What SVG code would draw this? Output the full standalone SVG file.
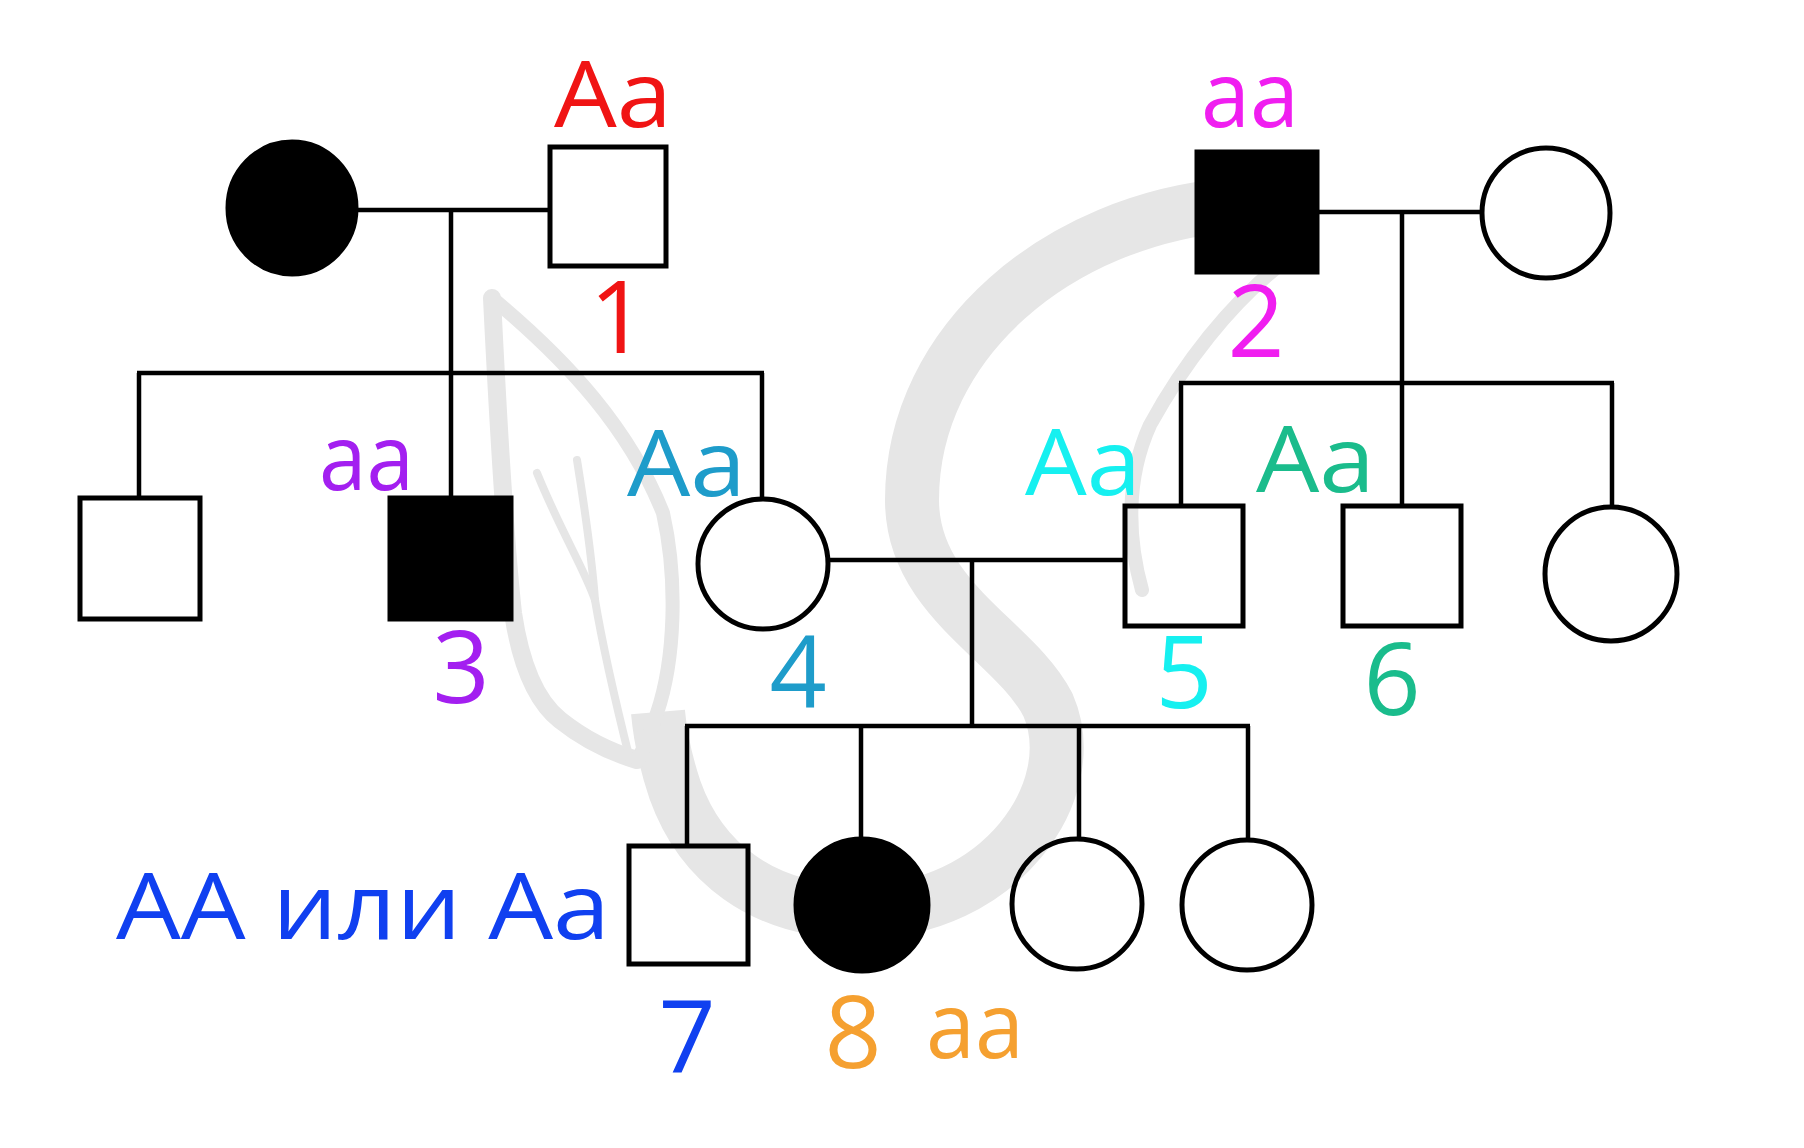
<svg xmlns="http://www.w3.org/2000/svg" width="1804" height="1148" viewBox="0 0 1804 1148">
<style>
.wm{fill:none;stroke:#e6e6e6;stroke-linecap:round;stroke-linejoin:round}
.wmb{fill:none;stroke:#e6e6e6;stroke-linecap:butt;stroke-linejoin:round}
.ln{fill:none;stroke:#000;stroke-width:4.5}
.sym{fill:none;stroke:#000;stroke-width:5}
.aff{fill:#000;stroke:#000;stroke-width:5}
.lbl{font-family:"Open Sans","Liberation Sans",sans-serif;font-size:92px}
.num{font-family:"Open Sans","Liberation Sans",sans-serif;font-size:100px;text-anchor:middle}
</style>
<rect x="0" y="0" width="1804" height="1148" fill="#fff"/>
<g id="watermark">
<path class="wmb" stroke-width="54" d="M1230,205 C1060,220 912,340 912,500 C912,600 1015,640 1048,705 C1085,790 1000,912 860,912 C760,912 700,860 675,790 C665,760 660,735 658,712"/>
<path class="wm" stroke-width="14" d="M1293,255 C1230,300 1180,370 1150,425 C1125,480 1128,540 1142,590"/>
<path class="wm" stroke-width="14" d="M492,298 C570,363 630,430 663,513 C678,580 675,660 657,713 C650,735 643,750 637,760"/>
<path class="wm" stroke-width="18" d="M492,298 C498,420 505,540 513,613 C520,660 535,700 560,720 C585,740 610,752 637,760"/>
<path class="wm" stroke-width="8" d="M537,473 C560,530 585,570 595,600"/>
<path class="wm" stroke-width="8" d="M577,460 C585,510 592,560 595,600"/>
<path class="wm" stroke-width="8" d="M595,600 C605,660 620,720 630,760"/>
</g>
<g id="connectors">
<line class="ln" x1="358" y1="210" x2="550" y2="210"/>
<line class="ln" x1="451" y1="210" x2="451" y2="373"/>
<line class="ln" x1="137" y1="373" x2="764" y2="373"/>
<line class="ln" x1="139" y1="373" x2="139" y2="498"/>
<line class="ln" x1="451" y1="373" x2="451" y2="498"/>
<line class="ln" x1="762" y1="373" x2="762" y2="498"/>
<line class="ln" x1="1317" y1="212" x2="1481" y2="212"/>
<line class="ln" x1="1402" y1="212" x2="1402" y2="383"/>
<line class="ln" x1="1179" y1="383" x2="1614" y2="383"/>
<line class="ln" x1="1181" y1="383" x2="1181" y2="506"/>
<line class="ln" x1="1402" y1="383" x2="1402" y2="506"/>
<line class="ln" x1="1612" y1="383" x2="1612" y2="507"/>
<line class="ln" x1="829" y1="560" x2="1125" y2="560"/>
<line class="ln" x1="972" y1="560" x2="972" y2="726"/>
<line class="ln" x1="685" y1="726" x2="1250" y2="726"/>
<line class="ln" x1="687" y1="726" x2="687" y2="845"/>
<line class="ln" x1="861" y1="726" x2="861" y2="838"/>
<line class="ln" x1="1079" y1="726" x2="1079" y2="838"/>
<line class="ln" x1="1248" y1="726" x2="1248" y2="839"/>
</g>
<g id="gen1-mother"><ellipse class="aff" cx="292" cy="208" rx="64" ry="66"/></g>
<g id="n1"><rect class="sym" x="550" y="147" width="116" height="119"/>
<text class="lbl" x="554" y="127" textLength="118" lengthAdjust="spacingAndGlyphs" fill="#f01414">Aa</text>
<text class="num" x="618" y="353" fill="#f01414">1</text></g>
<g id="n2"><rect class="aff" x="1197" y="152" width="120" height="120"/>
<text class="lbl" x="1201" y="127" textLength="98" lengthAdjust="spacingAndGlyphs" fill="#f01ef0">aa</text>
<text class="num" x="1256" y="357" fill="#f01ef0">2</text></g>
<g id="gen1-wife2"><ellipse class="sym" cx="1546" cy="213" rx="64" ry="65"/></g>
<g id="gen2-son"><rect class="sym" x="80" y="498" width="120" height="121"/></g>
<g id="n3"><rect class="aff" x="390" y="498" width="121" height="121"/>
<text class="lbl" x="319" y="490" textLength="95" lengthAdjust="spacingAndGlyphs" fill="#a31ff0">aa</text>
<text class="num" x="461" y="703" fill="#a31ff0">3</text></g>
<g id="n4"><ellipse class="sym" cx="763" cy="564" rx="65" ry="65"/>
<text class="lbl" x="627" y="496" textLength="119" lengthAdjust="spacingAndGlyphs" fill="#1e9cca">Aa</text>
<text class="num" x="798" y="708" fill="#1e9cca">4</text></g>
<g id="n5"><rect class="sym" x="1125" y="506" width="118" height="120"/>
<text class="lbl" x="1025" y="495" textLength="116" lengthAdjust="spacingAndGlyphs" fill="#16f0f0">Aa</text>
<text class="num" x="1184" y="708" fill="#16f0f0">5</text></g>
<g id="n6"><rect class="sym" x="1343" y="506" width="118" height="120"/>
<text class="lbl" x="1256" y="492" textLength="119" lengthAdjust="spacingAndGlyphs" fill="#1abc8c">Aa</text>
<text class="num" x="1392" y="715" fill="#1abc8c">6</text></g>
<g id="gen2-daughter"><ellipse class="sym" cx="1611" cy="574" rx="66" ry="67"/></g>
<g id="n7"><rect class="sym" x="629" y="846" width="119" height="118"/>
<text class="lbl" x="116" y="939" textLength="494" lengthAdjust="spacingAndGlyphs" fill="#1040f0">AA или Aa</text>
<text class="num" x="687" y="1073" fill="#1040f0">7</text></g>
<g id="n8"><ellipse class="aff" cx="862" cy="905" rx="66" ry="66"/>
<text class="num" x="853" y="1068" fill="#f5a030">8</text>
<text class="lbl" x="926" y="1058" textLength="98" lengthAdjust="spacingAndGlyphs" fill="#f5a030">aa</text></g>
<g id="gen3-daughter1"><ellipse class="sym" cx="1077" cy="904" rx="65" ry="65"/></g>
<g id="gen3-daughter2"><ellipse class="sym" cx="1247" cy="905" rx="65" ry="65"/></g>
</svg>
